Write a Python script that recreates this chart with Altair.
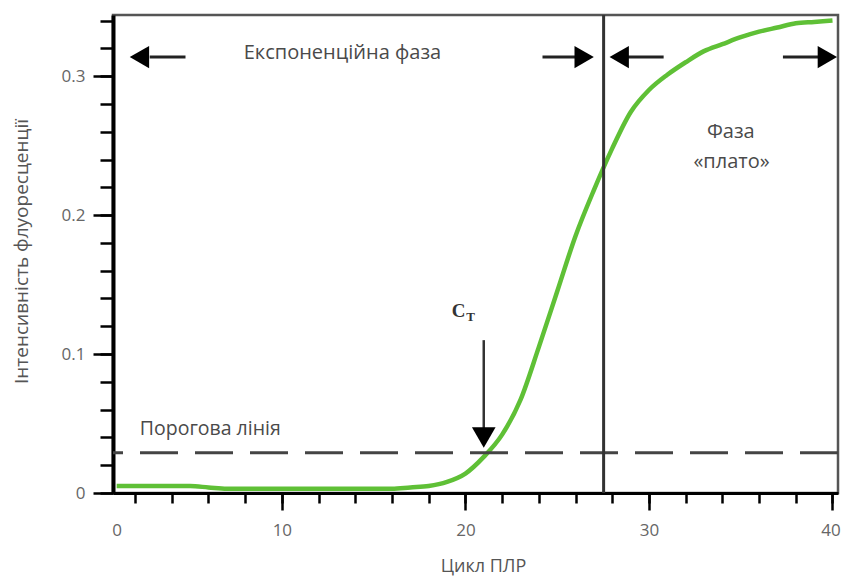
import altair as alt
import pandas as pd

# ---------------- data ----------------
cycles = list(range(1, 41))
fluorescence = [0.005, 0.005, 0.005, 0.005, 0.005, 0.004, 0.003, 0.003, 0.003, 0.003,
                0.003, 0.003, 0.003, 0.003, 0.003, 0.003, 0.004, 0.005, 0.008, 0.014,
                0.026, 0.042, 0.067, 0.105, 0.145, 0.185, 0.218, 0.248, 0.274, 0.290,
                0.301, 0.310, 0.318, 0.323, 0.328, 0.332, 0.335, 0.338, 0.339, 0.340]

threshold = 0.029
plateau_start = 27.53
ct_cycle = 21.0

x_major = [1.0, 10, 20, 30, 40]
x_minor = [2, 4, 6, 8, 10, 12, 14, 16, 18, 20, 22, 24, 26, 28, 30, 32, 34, 36, 38, 40]
y_major = [0, 0.1, 0.2, 0.3]
y_minor = [0, 0.02, 0.04, 0.06, 0.08, 0.1, 0.12, 0.14, 0.16, 0.18, 0.2,
           0.22, 0.24, 0.26, 0.28, 0.3, 0.32, 0.34]

label_texts = ["Експоненційна фаза", "Фаза", "«плато»"]
label_x = [13.3, 34.46, 34.5]
label_y = [0.3165, 0.260, 0.238]

threshold_label = "Порогова лінія"
threshold_label_x = 2.26
threshold_label_y = 0.046

arrow_y = 0.3137
shaft_start = [2.8, 24.2, 28.4, 37.3]
shaft_end = [4.75, 26.5, 30.8, 39.7]
head_x = [2.24, 26.47, 28.38, 39.72]
head_shape = ["triangle-left", "triangle-right", "triangle-left", "triangle-right"]

ct_shaft_top = 0.110
ct_shaft_bottom = 0.045
ct_head_y = 0.0399
ct_c_pos = (19.63, 0.131)
ct_t_pos = (20.28, 0.1266)

# ---------------- chart ----------------
X_DOMAIN = [0.8, 40.3]
Y_DOMAIN = [0, 0.344]
FONT = "Open Sans"
TXT = "#4a4a4a"


def xs():
    return alt.Scale(domain=X_DOMAIN, nice=False, zero=False)


def ys():
    return alt.Scale(domain=Y_DOMAIN, nice=False, zero=False)


curve_df = pd.DataFrame({"cycle": cycles, "f": fluorescence})

main = alt.Chart(curve_df).mark_line(
    color="#5fc036", strokeWidth=4.5, interpolate="monotone"
).encode(
    x=alt.X("cycle:Q", scale=xs(), axis=alt.Axis(
        orient="bottom", values=x_major,
        labelExpr="datum.value < 1.5 ? '0' : datum.label", format="d",
        tickSize=17, tickWidth=2.5,
        tickColor={"condition": {"test": "datum.value < 1.5", "value": "rgba(0,0,0,0)"}, "value": "black"},
        labelOffset={"condition": {"test": "datum.value >= 40", "value": -2}, "value": 0},
        domainColor="black", domainWidth=3,
        labelFont=FONT, labelFontSize=17, labelColor="#666", labelPadding=12,
        title="Цикл ПЛР", titleFont=FONT, titleFontSize=18, titleFontWeight="normal",
        titleColor="#555", titleX=370, titleY=73, titleBaseline="middle", titleAlign="center",
        grid=False)),
    y=alt.Y("f:Q", scale=ys(), axis=alt.Axis(
        orient="left", values=y_major, format=".1~f",
        tickSize=20, tickWidth=2.5, tickColor="black",
        domainColor="black", domainWidth=4,
        labelFont=FONT, labelFontSize=17, labelColor="#666", labelPadding=8,
        title="Інтенсивність флуоресценції", titleFont=FONT, titleFontSize=19,
        titleFontWeight="normal", titleColor="#555", titleX=-92, titleY=236,
        titleBaseline="middle", titleAlign="center", titleAngle=-90,
        grid=False)),
)

minor = alt.Chart(curve_df).mark_line(opacity=0).encode(
    x=alt.X("cycle:Q", scale=xs(), axis=alt.Axis(
        orient="bottom", values=x_minor, tickSize=10, tickWidth=2.5, tickColor="black",
        labels=False, domain=False, title=None, grid=False)),
    y=alt.Y("f:Q", scale=ys(), axis=alt.Axis(
        orient="left", values=y_minor, tickSize=13, tickWidth=2.5, tickColor="black",
        labels=False, domain=False, title=None, grid=False)),
)

vline = alt.Chart(pd.DataFrame({"x": [plateau_start]})).mark_rule(
    color="#333", strokeWidth=3
).encode(x=alt.X("x:Q", scale=xs(), axis=None))

hline = alt.Chart(pd.DataFrame({"y": [threshold]})).mark_rule(
    color="#444", strokeWidth=3, strokeDash=[38, 17]
).encode(y=alt.Y("y:Q", scale=ys(), axis=None))

shaft_df = pd.DataFrame({"x": shaft_start, "x2": shaft_end, "y": [arrow_y] * len(shaft_start)})
shafts = alt.Chart(shaft_df).mark_rule(color="#222", strokeWidth=3).encode(
    x=alt.X("x:Q", scale=xs(), axis=None), x2="x2:Q",
    y=alt.Y("y:Q", scale=ys(), axis=None))

head_df = pd.DataFrame({"x": head_x, "y": [arrow_y] * len(head_x), "shape": head_shape})
heads = alt.Chart(head_df).mark_point(filled=True, size=500, color="black", opacity=1).encode(
    x=alt.X("x:Q", scale=xs(), axis=None),
    y=alt.Y("y:Q", scale=ys(), axis=None),
    shape=alt.Shape("shape:N", scale=None))

ct_shaft = alt.Chart(pd.DataFrame({"x": [ct_cycle], "y": [ct_shaft_top], "y2": [ct_shaft_bottom]})).mark_rule(
    color="#333", strokeWidth=2.5).encode(
    x=alt.X("x:Q", scale=xs(), axis=None),
    y=alt.Y("y:Q", scale=ys(), axis=None), y2="y2:Q")

ct_head = alt.Chart(pd.DataFrame({"x": [ct_cycle], "y": [ct_head_y], "shape": ["triangle-down"]})).mark_point(
    filled=True, size=560, color="black", opacity=1).encode(
    x=alt.X("x:Q", scale=xs(), axis=None),
    y=alt.Y("y:Q", scale=ys(), axis=None),
    shape=alt.Shape("shape:N", scale=None))

labels = alt.Chart(pd.DataFrame({"t": label_texts, "x": label_x, "y": label_y})).mark_text(
    font=FONT, fontSize=20, color=TXT, align="center", baseline="middle").encode(
    x=alt.X("x:Q", scale=xs(), axis=None),
    y=alt.Y("y:Q", scale=ys(), axis=None), text="t:N")

thr_label = alt.Chart(pd.DataFrame({"t": [threshold_label], "x": [threshold_label_x], "y": [threshold_label_y]})).mark_text(
    font=FONT, fontSize=19.5, color=TXT, align="left", baseline="middle").encode(
    x=alt.X("x:Q", scale=xs(), axis=None),
    y=alt.Y("y:Q", scale=ys(), axis=None), text="t:N")

ct_c = alt.Chart(pd.DataFrame({"t": ["C"], "x": [ct_c_pos[0]], "y": [ct_c_pos[1]]})).mark_text(
    font="Liberation Serif", fontSize=19, fontWeight="bold", color="#333",
    align="center", baseline="middle").encode(
    x=alt.X("x:Q", scale=xs(), axis=None),
    y=alt.Y("y:Q", scale=ys(), axis=None), text="t:N")

ct_t = alt.Chart(pd.DataFrame({"t": ["T"], "x": [ct_t_pos[0]], "y": [ct_t_pos[1]]})).mark_text(
    font="Liberation Serif", fontSize=13, fontWeight="bold", color="#333",
    align="center", baseline="middle").encode(
    x=alt.X("x:Q", scale=xs(), axis=None),
    y=alt.Y("y:Q", scale=ys(), axis=None), text="t:N")

chart = alt.layer(
    main, minor, hline, vline, shafts, heads, ct_shaft, ct_head, labels, thr_label, ct_c, ct_t
).resolve_axis(
    x="independent", y="independent"
).properties(
    width=725, height=478,
    padding={"left": 105, "top": 7, "right": 4, "bottom": 84},
    autosize=alt.AutoSizeParams(type="none"),
    background="white",
).configure_view(
    stroke="#555", strokeWidth=2.5
)

chart.save("out.html", embed_options={"renderer": "svg", "actions": False})
